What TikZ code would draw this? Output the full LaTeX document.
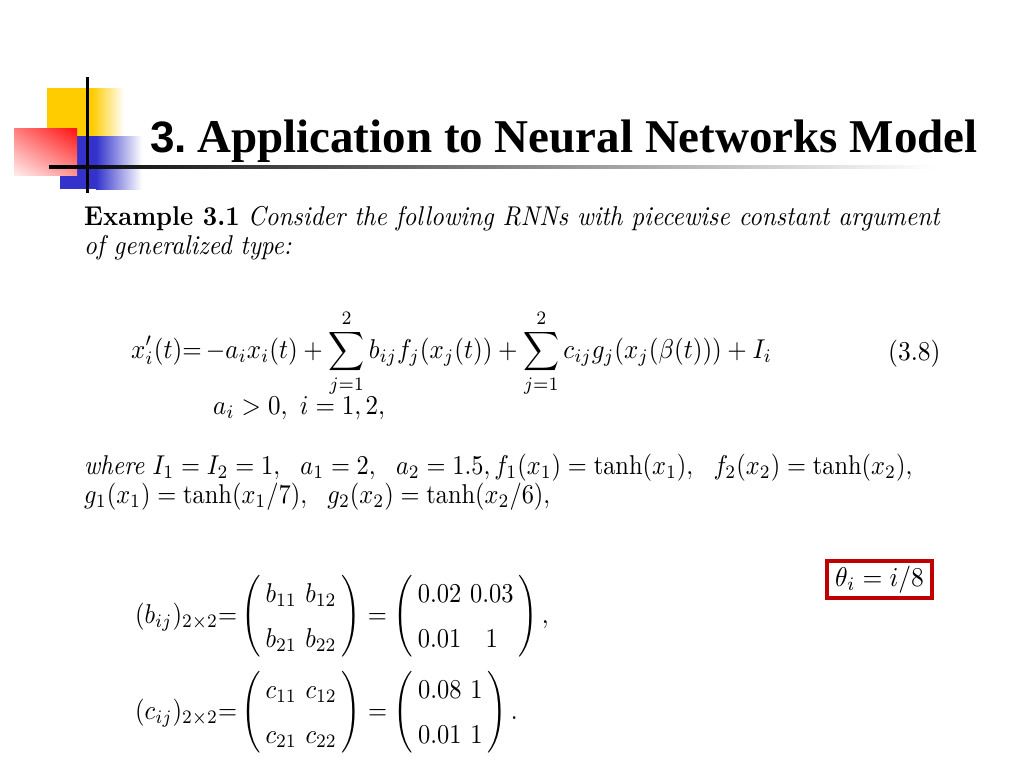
\documentclass[tikz,border=0pt]{standalone}
\usepackage{graphicx}
\usepackage{fontspec}
\usetikzlibrary{shadings}
\newfontfamily\titleserif{Liberation Serif}
\newfontfamily\titlesans{Liberation Sans}
\definecolor{decoyellow}{HTML}{FFCC00}
\definecolor{decoblue}{HTML}{3333CC}
\definecolor{decored}{HTML}{FF1010}
\definecolor{boxred}{HTML}{C00000}
\newcommand\bodybox[2][2.5]{\scalebox{#1}[2.72]{#2}}
\newcommand\mtx[2]{\Biggl(\renewcommand\arraystretch{1.375}\begin{array}{@{\hspace{2pt}}c@{\hspace{3.5pt}}c@{\hspace{2pt}}}#1\\#2\end{array}\Biggr)}
\tikzset{
  body/.style={anchor=base west, inner sep=0pt, font=\normalsize},
  titletext/.style={anchor=base west, inner sep=0pt, font=\fontsize{47}{54}\selectfont\bfseries},
}
\begin{document}
\begin{tikzpicture}[x=1pt,y=-1pt]
\useasboundingbox (0,0) rectangle (1024,768);
% decoration
\fill[decoyellow] (47,88) rectangle (92,137);
\shade[left color=decoyellow, right color=white] (92,88) rectangle (124,137);
\fill[decoblue] (60,136) rectangle (96,189);
\shade[left color=decoblue, right color=white] (96,136) rectangle (142,189);
\shade[upper left=decored!55, upper right=decored, lower left=decored!8, lower right=decored!45] (14,128) rectangle (77,175);
\fill[black] (85.5,77) rectangle (88.5,193);
\shade[left color=black, right color=white] (49,165.5) rectangle (935,168.5);
% title
\node[titletext, font=\fontsize{44}{52}\selectfont\bfseries] (tnum) at (150,152) {\titlesans 3.};
\node[titletext] (title) at (197,152) {\titleserif Application to Neural Networks Model};
% body
\node[body] (ex1) at (84,225) {\bodybox{\textbf{Example 3.1}\ \textit{Consider the following RNNs with piecewise constant argument}}};
\node[body] (ex2) at (84,254) {\bodybox{\textit{of generalized type:}}};
\node[body] (eq) at (131,358) {\bodybox{$\displaystyle x_i'(t){=}\,{-}a_ix_i(t)+\sum_{j=1}^{2}b_{ij}f_j(x_j(t))+\sum_{j=1}^{2}c_{ij}g_j(x_j(\beta(t)))+I_i$}};
\node[body] (eqno) at (888,360) {\bodybox[2.55]{(3.8)}};
\node[body] (cond) at (213,414) {\bodybox{$a_i>0,\ i=1,2,$}};
\node[body] (where1) at (84,474) {\bodybox[2.44]{\textit{where} $I_1=I_2=1,\ \ a_1=2,\ \ a_2=1.5, f_1(x_1)=\tanh(x_1),\ \ f_2(x_2)=\tanh(x_2),$}};
\node[body] (where2) at (84,503) {\bodybox[2.44]{$g_1(x_1)=\tanh(x_1/7),\ \ g_2(x_2)=\tanh(x_2/6),$}};
\node[body] (matb) at (135,623) {\bodybox[2.45]{$\displaystyle (b_{ij})_{2\times2}{=}\,\mtx{b_{11} & b_{12}}{b_{21} & b_{22}}=\mtx{0.02 & 0.03}{0.01 & 1}\,,$}};
\node[body] (matc) at (135,719) {\bodybox[2.45]{$\displaystyle (c_{ij})_{2\times2}{=}\,\mtx{c_{11} & c_{12}}{c_{21} & c_{22}}=\mtx{0.08 & 1}{0.01 & 1}\,.$}};
\node[draw=boxred, line width=4pt, minimum width=105pt, minimum height=37pt, inner sep=0pt] (theta) at (879.5,579.5) {\bodybox[2.55]{$\theta_i=i/8$}};
\end{tikzpicture}
\end{document}
